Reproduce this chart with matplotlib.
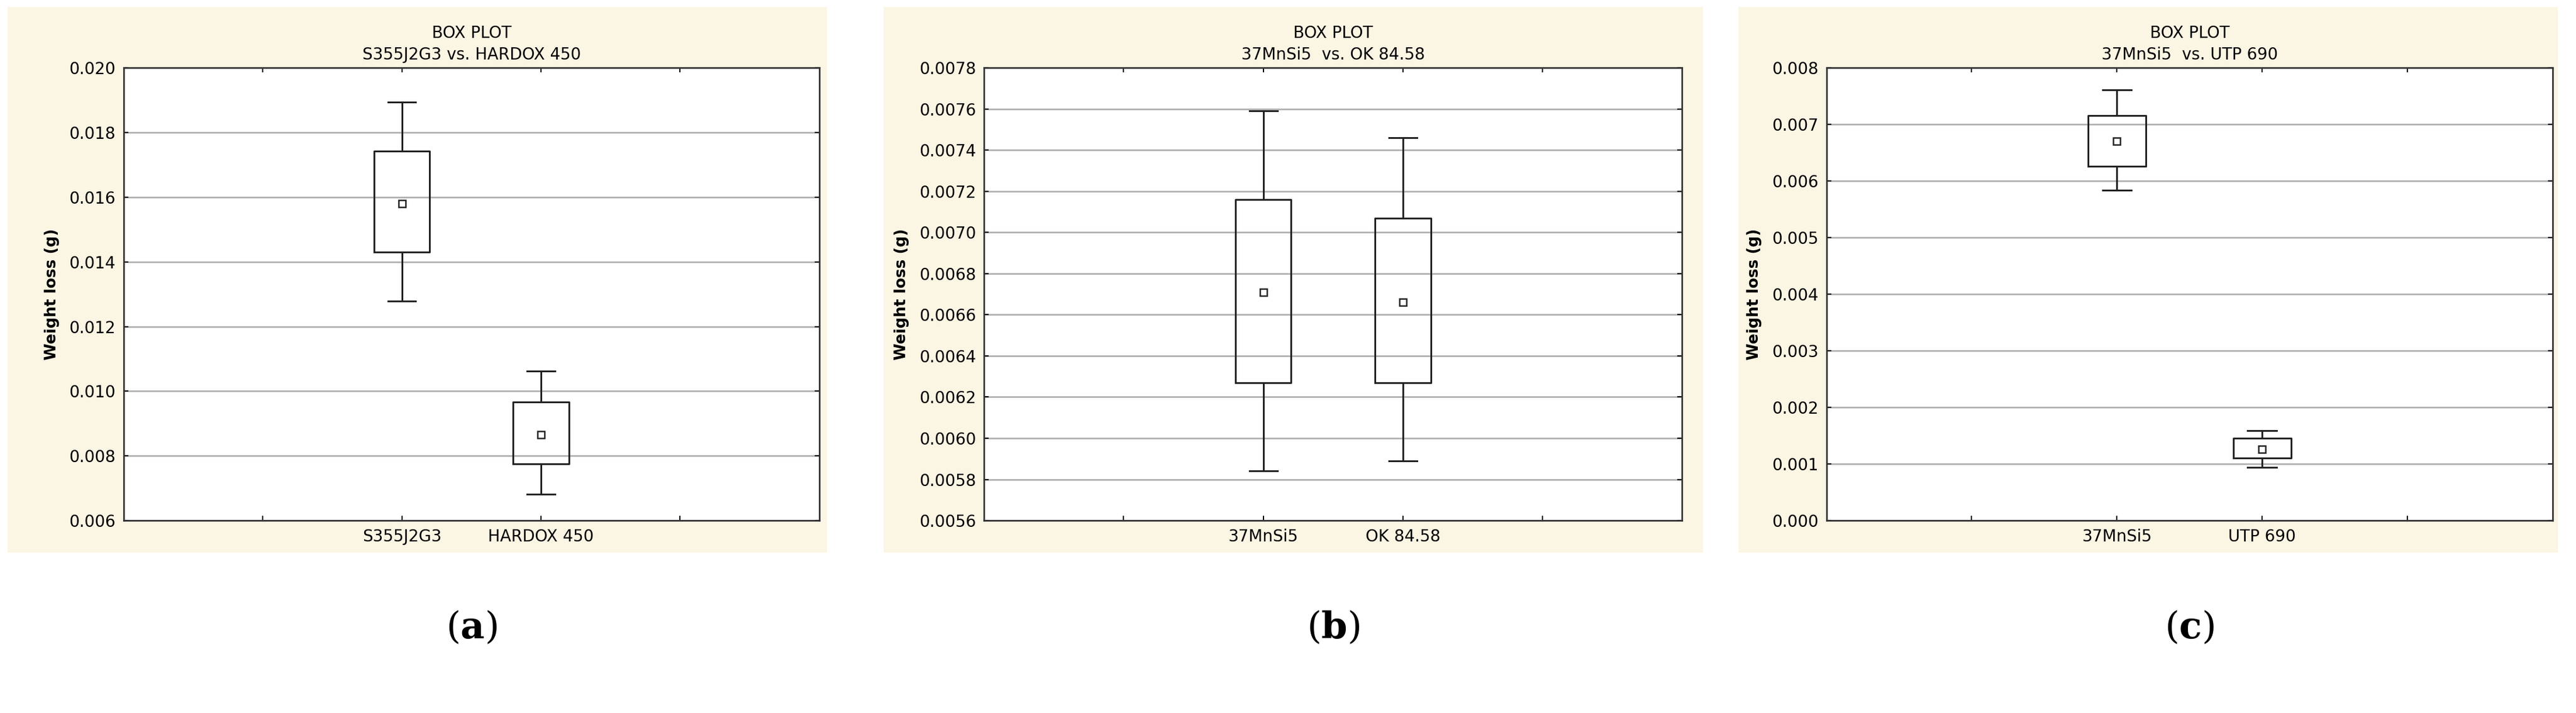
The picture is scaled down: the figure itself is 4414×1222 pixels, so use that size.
import matplotlib
matplotlib.use("Agg")
import matplotlib.pyplot as plt
from matplotlib.patches import Rectangle

plt.rcParams['mathtext.fontset'] = 'dejavuserif'

titles = ["S355J2G3 vs. HARDOX 450", "37MnSi5  vs. OK 84.58", "37MnSi5  vs. UTP 690"]
cats = [["S355J2G3", "HARDOX 450"], ["37MnSi5", "OK 84.58"], ["37MnSi5", "UTP 690"]]
whislo = [[0.01278, 0.00682], [0.00584, 0.00589], [0.00584, 0.00094]]
q1 = [[0.01430, 0.00775], [0.00627, 0.00627], [0.00626, 0.00110]]
means = [[0.01580, 0.00866], [0.00671, 0.00666], [0.00670, 0.00126]]
q3 = [[0.01742, 0.00967], [0.00716, 0.00707], [0.00716, 0.00145]]
whishi = [[0.01893, 0.01062], [0.00759, 0.00746], [0.00761, 0.00159]]
ylims = [(0.006, 0.020), (0.0056, 0.0078), (0.0, 0.008)]
ysteps = [0.002, 0.0002, 0.001]
yfmt = ["{:.3f}", "{:.4f}", "{:.3f}"]
letters = ["a", "b", "c"]

fig = plt.figure(figsize=(44.14, 12.22), dpi=100)
bg = "#FBF5E3"
bgl = [0.003, 0.343, 0.675]
axl = [0.048, 0.382, 0.709]
axr = [0.318, 0.653, 0.991]
for i in range(3):
    fig.add_artist(Rectangle((bgl[i], 0.225), 0.318, 0.765,
                             transform=fig.transFigure, facecolor=bg, edgecolor="none", zorder=0))
    ax = fig.add_axes([axl[i], 0.27, axr[i] - axl[i], 0.635])
    ax.set_facecolor("white")
    stats = []
    for j in range(2):
        stats.append(dict(whislo=whislo[i][j], q1=q1[i][j], med=means[i][j], q3=q3[i][j],
                          whishi=whishi[i][j], mean=means[i][j], fliers=[]))
    ax.bxp(stats, positions=[2, 3], widths=0.4, showmeans=True, showfliers=False,
           boxprops=dict(color="#222222", linewidth=2.2),
           whiskerprops=dict(color="#222222", linewidth=2.2),
           capprops=dict(color="#222222", linewidth=2.2),
           medianprops=dict(linewidth=0),
           meanprops=dict(marker="s", markersize=9, markerfacecolor="white",
                          markeredgecolor="#222222", markeredgewidth=1.8),
           zorder=3)
    ax.set_xlim(0, 5)
    ax.set_xticks([1, 2, 3, 4])
    ax.set_xticklabels(["", cats[i][0], cats[i][1], ""], fontsize=20)
    lo, hi = ylims[i]
    n = int(round((hi - lo) / ysteps[i]))
    ticks = [lo + k * ysteps[i] for k in range(n + 1)]
    ax.set_ylim(lo, hi)
    ax.set_yticks(ticks)
    ax.set_yticklabels([yfmt[i].format(t) for t in ticks], fontsize=20)
    ax.yaxis.grid(True, color="#B0B0B0", linewidth=2)
    ax.set_axisbelow(True)
    ax.tick_params(direction="in", length=6, width=1.5, top=True, right=True,
                   labeltop=False, labelright=False, pad=10)
    for s in ax.spines.values():
        s.set_linewidth(2)
        s.set_color("#333333")
    ax.set_ylabel("Weight loss (g)", fontsize=19, fontweight="bold", labelpad=12)
    ax.set_title("BOX PLOT\n" + titles[i], fontsize=20, linespacing=1.4, pad=10)
    cx = (axl[i] + axr[i]) / 2
    fig.text(cx, 0.12, "($\\mathbf{" + letters[i] + "}$)", fontsize=46,
             family="DejaVu Serif", ha="center", va="center")

fig.savefig("out.png", dpi=100, facecolor="white")
